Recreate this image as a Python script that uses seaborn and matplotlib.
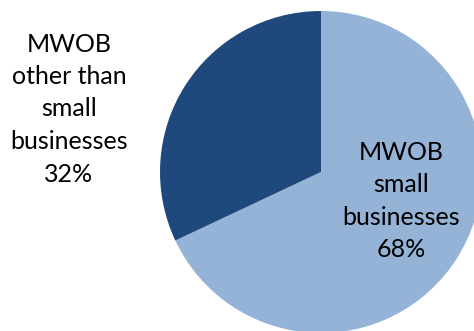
import matplotlib
matplotlib.use("Agg")
import matplotlib.pyplot as plt
import seaborn as sns

categories = ["MWOB small businesses", "MWOB other than small businesses"]
label_lines = ["MWOB\nsmall\nbusinesses", "MWOB\nother than\nsmall\nbusinesses"]
shares = [68, 32]
colors = ["#95B3D7", "#1F497D"]

sns.set_theme(style="white")
plt.rcParams['font.family'] = ['Lato', 'DejaVu Sans']

fig = plt.figure(figsize=(4.74, 3.31), dpi=100)
ax = fig.add_axes([0, 0, 1, 1])
ax.pie(shares, colors=colors, startangle=90, counterclock=False,
       center=(321, 159), radius=161, frame=True,
       wedgeprops=dict(linewidth=0))
ax.set_xlim(0, 474)
ax.set_ylim(0, 331)
ax.set_aspect('equal')
ax.axis('off')

fs = 18
ax.text(401, 130, f"{label_lines[0]}\n{shares[0]}%", ha='center', va='center',
        fontsize=fs, color='black', linespacing=1.5)
ax.text(69, 222, f"{label_lines[1]}\n{shares[1]}%", ha='center', va='center',
        fontsize=fs, color='black', linespacing=1.5)

fig.savefig("out.png", dpi=100)
